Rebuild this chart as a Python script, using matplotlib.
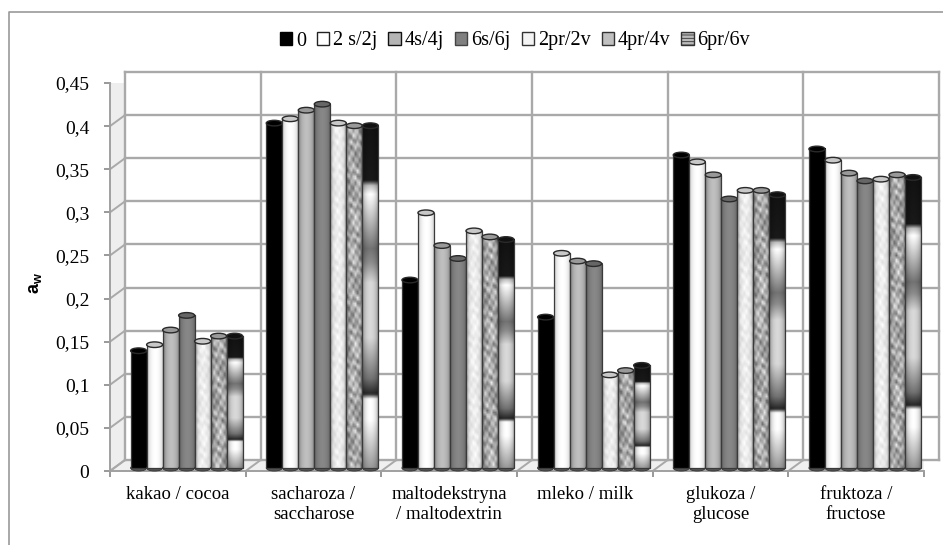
import numpy as np
import matplotlib
matplotlib.use("Agg")
import matplotlib.pyplot as plt
from matplotlib.patches import Ellipse, Polygon, Patch
from matplotlib.transforms import Affine2D, IdentityTransform
from matplotlib.lines import Line2D

categories = ["kakao / cocoa", "sacharoza /\nsaccharose", "maltodekstryna\n/ maltodextrin",
              "mleko / milk", "glukoza /\nglucose", "fruktoza /\nfructose"]
series_names = ["0", "2 s/2j", "4s/4j", "6s/6j", "2pr/2v", "4pr/4v", "6pr/6v"]

s0 = [0.136, 0.400, 0.218, 0.175, 0.363, 0.370]
s2j = [0.143, 0.405, 0.296, 0.249, 0.355, 0.357]
s4j = [0.160, 0.415, 0.258, 0.240, 0.340, 0.342]
s6j = [0.177, 0.422, 0.243, 0.237, 0.312, 0.333]
pr2v = [0.147, 0.400, 0.275, 0.108, 0.322, 0.335]
pr4v = [0.153, 0.397, 0.268, 0.113, 0.322, 0.340]
pr6v = [0.153, 0.397, 0.265, 0.119, 0.317, 0.337]
all_series = [s0, s2j, s4j, s6j, pr2v, pr4v, pr6v]

yticks = [0, 0.05, 0.1, 0.15, 0.2, 0.25, 0.3, 0.35, 0.4, 0.45]
ylabels = ["0", "0,05", "0,1", "0,15", "0,2", "0,25", "0,3", "0,35", "0,4", "0,45"]

W, H = 943, 545
GRID = "#a9a9a9"
SERIF = "Liberation Serif"
plt.rcParams["mathtext.fontset"] = "custom"
plt.rcParams["mathtext.bf"] = "Liberation Sans:bold"
plt.rcParams["mathtext.rm"] = "Liberation Sans:bold"
plt.rcParams["hatch.linewidth"] = 0.6

fig = plt.figure(figsize=(W / 100, H / 100), dpi=100)
fig.add_artist(Line2D([9 / W, 9 / W, 1], [0, 1 - 12 / H, 1 - 12 / H], color="#999999", lw=1.2))

left, right, top, bottom = 110, 924, 83, 471
ax = fig.add_axes([left / W, 1 - bottom / H, (right - left) / W, (bottom - top) / H])
ax.patch.set_alpha(0)

n = len(categories)
ymax = yticks[-1]
ax.set_xlim(0, n)
ax.set_ylim(0, ymax)
back_tr = ax.transData + Affine2D().translate(15, 11)
bar_tr = ax.transData + Affine2D().translate(8.8, 3)
px = IdentityTransform()

# walls and gridlines
a = ax.transData.transform([(0, 0), (0, ymax), (n, 0)])
b = back_tr.transform([(0, 0), (0, ymax), (n, 0)])
ax.add_artist(Polygon([a[0], a[1], b[1], b[0]], closed=True, transform=px,
                      facecolor="#eeeeee", edgecolor="none", zorder=0.5))
ax.add_artist(Polygon([a[0], a[2], b[2], b[0]], closed=True, transform=px,
                      facecolor="#f0f0f0", edgecolor="none", zorder=0.5))
for y in yticks:
    ax.plot([0, n], [y, y], color=GRID, lw=1.7, transform=back_tr, clip_on=False, zorder=1)
    p, q = ax.transData.transform((0, y)), back_tr.transform((0, y))
    ax.add_artist(Line2D([p[0], q[0]], [p[1], q[1]], color=GRID, lw=1.4, transform=px, zorder=1))
for k in range(n + 1):
    ax.plot([k, k], [0, ymax], color=GRID, lw=1.7, transform=back_tr, clip_on=False, zorder=1)
    p, q = ax.transData.transform((k, 0)), back_tr.transform((k, 0))
    ax.add_artist(Line2D([p[0], q[0]], [p[1], q[1]], color=GRID, lw=1.4, transform=px, zorder=1))

# cylinder textures
def shade(nx):
    u = np.linspace(0, 1, nx)
    return 0.5 + 0.5 * np.sin(np.pi * u) ** 0.45

def marble(ny, nx, seed):
    yy, xx = np.mgrid[0:ny, 0:nx]
    return (np.sin(xx * 1.7 + yy * 0.9 + seed) + np.sin(yy * 1.3 - xx * 2.1 + seed * 2)
            + np.sin((xx - yy) * 0.7 + np.sin(yy * 0.4) * 2)) / 3

def banded(ny, nx):
    stops = [0, 0.16, 0.175, 0.20, 0.36, 0.40, 0.46, 0.62, 0.74, 0.785, 0.80, 0.86, 1]
    vals = [0.07, 0.10, 0.75, 1.0, 0.45, 0.55, 0.85, 0.85, 0.45, 0.15, 1.0, 1.0, 0.6]
    prof = np.interp(np.linspace(0, 1, ny), stops, vals)
    return np.outer(prof, shade(nx))

def texture(idx, cat, v):
    ny = int(v * 430)
    nx = 8
    sh = shade(24)
    if idx == 0:
        return np.zeros((2, 2))
    if idx == 1:
        return np.tile(sh ** 0.6, (2, 1))
    if idx == 2:
        return np.tile(0.75 * sh, (2, 1))
    if idx == 3:
        return np.tile(0.53 * sh ** 0.8, (2, 1))
    if idx == 4:
        return np.clip((0.94 + 0.07 * marble(ny, nx, cat)) * shade(nx) ** 0.5, 0, 1)
    if idx == 5:
        return np.clip((0.68 + 0.28 * marble(ny, nx, cat + 3)) * shade(nx) ** 0.5, 0, 1)
    return banded(240, 24)

# bars
bw = 0.118
tops = ["#000000", "#c8c8c8", "#999999", "#666666", "#c8c8c8", "#999999", "#111111"]
for i, vals in enumerate(all_series):
    x = np.arange(n) + 0.5 + (i - 3) * bw
    z = 3 + i
    ax.bar(x, vals, width=bw, facecolor="none", edgecolor="#3a3a3a", lw=0.9, transform=bar_tr,
           clip_on=False, zorder=z + 0.3)
    for c, v in enumerate(vals):
        ax.add_patch(Ellipse((x[c], 0), bw, 0.007, facecolor="#555555", edgecolor="#333333", lw=0.6,
                             transform=bar_tr, clip_on=False, zorder=z))
        ax.imshow(texture(i, c, v), extent=[x[c] - bw / 2, x[c] + bw / 2, 0, v], aspect="auto", cmap="gray",
                  vmin=0, vmax=1, interpolation="bilinear", transform=bar_tr, clip_on=False, zorder=z + 0.2)
        ax.add_patch(Ellipse((x[c], v), bw, 0.0065, facecolor=tops[i], edgecolor="#2a2a2a", lw=1.0,
                             transform=bar_tr, clip_on=False, zorder=z + 0.4))

ax.set_xlim(0, n)
ax.set_ylim(0, ymax)
ax.set_yticks(yticks, ylabels, family=SERIF, fontsize=14)
ax.set_xticks(range(n + 1), [""] * (n + 1))
ax.set_xticks(np.arange(n) + 0.5, categories, minor=True, family=SERIF, fontsize=13.5, linespacing=1.2)
ax.tick_params(axis="x", which="minor", length=0, pad=11)
ax.tick_params(axis="both", which="major", length=4.3, width=1.2, color="#888888", pad=10.5)
for name in ("top", "right"):
    ax.spines[name].set_visible(False)
for name in ("left", "bottom"):
    ax.spines[name].set_color("#a0a0a0")
    ax.spines[name].set_linewidth(1.4)

fig.text(35 / W, 1 - 283 / H, r"$\mathbf{a_w}$", rotation=90, fontsize=13, ha="center", va="center")

# legend
face = ["#000000", "#ffffff", "#b5b5b5", "#808080", "#f4f4f4", "#c0c0c0", "#bbbbbb"]
hatch = [None, None, None, None, None, None, "-----"]
edges = ["#000000", "#222222", "#111111", "#444444", "#333333", "#333333", "#333333"]
handles = [Patch(facecolor=face[i], edgecolor=edges[i], hatch=hatch[i], lw=1.0, label=series_names[i])
           for i in range(len(face))]
fig.legend(handles=handles, ncols=7, frameon=False, loc="center", bbox_to_anchor=(515 / W, 1 - 41 / H),
           prop={"family": SERIF, "size": 14.5}, handlelength=0.6, handleheight=0.6,
           handletextpad=0.2, columnspacing=0.55, borderpad=0)

fig.savefig("out.png", dpi=100)
